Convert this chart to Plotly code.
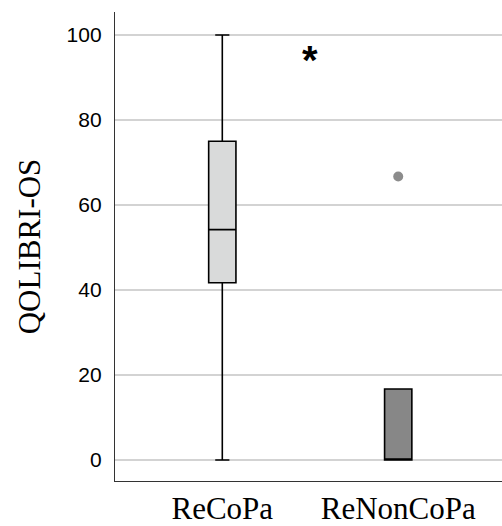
import plotly.graph_objects as go

categories = ["ReCoPa", "ReNonCoPa"]
q1_vals = [41.7, 0.0]
median_vals = [54.2, 0.0]
q3_vals = [75.0, 16.7]
lower_vals = [0.0, 0.0]
upper_vals = [100.0, 16.7]
fill_colors = ["#d9dada", "#878787"]

outlier_cats = ["ReNonCoPa"]
outlier_vals = [66.7]

sig_label = "*"
sig_x = 0.5
sig_y = 94.0

y_ticks = [0, 20, 40, 60, 80, 100]

fig = go.Figure()
for i, cat in enumerate(categories):
    fig.add_trace(go.Box(
        x=[i], q1=[q1_vals[i]], median=[median_vals[i]], q3=[q3_vals[i]],
        lowerfence=[lower_vals[i]], upperfence=[upper_vals[i]],
        width=0.155, whiskerwidth=0.52,
        fillcolor=fill_colors[i],
        line=dict(color="#000000", width=1.6),
        boxpoints=False, showlegend=False, name=cat,
    ))

fig.add_trace(go.Scatter(
    x=[categories.index(c) for c in outlier_cats], y=outlier_vals,
    mode="markers",
    marker=dict(size=10, color="#8c8c8c", line=dict(width=0)),
    showlegend=False,
))

fig.add_annotation(
    x=sig_x, y=sig_y, text="<b>" + sig_label + "</b>", showarrow=False,
    font=dict(family="Liberation Sans, Arial", size=40, color="#000000"),
    xref="x", yref="y",
)

fig.update_layout(
    width=502, height=526,
    margin=dict(l=115, r=0, t=12, b=45),
    plot_bgcolor="#ffffff", paper_bgcolor="#ffffff",
    xaxis=dict(
        range=[-0.61, 1.59], tickmode="array", tickvals=[0, 1], ticktext=categories,
        showgrid=False, zeroline=False, showline=True, linecolor="#333333", linewidth=1.3,
        ticks="", tickfont=dict(family="Liberation Serif, Times New Roman", size=31, color="#000000"),
    ),
    yaxis=dict(
        range=[-4.94, 105.41], tickmode="array", tickvals=y_ticks,
        showgrid=True, gridcolor="#d3d3d3", gridwidth=1.5, zeroline=False,
        showline=True, linecolor="#333333", linewidth=1.3, ticks="",
        ticklabelstandoff=8,
        tickfont=dict(family="Liberation Sans, Arial", size=21, color="#000000"),
        title=dict(text="QOLIBRI-OS", standoff=16,
                   font=dict(family="Liberation Serif, Times New Roman", size=31, color="#000000")),
    ),
)

fig.write_html("out.html", config={"displayModeBar": False},
               post_script="document.body.style.margin='0';document.body.style.overflow='hidden';")
